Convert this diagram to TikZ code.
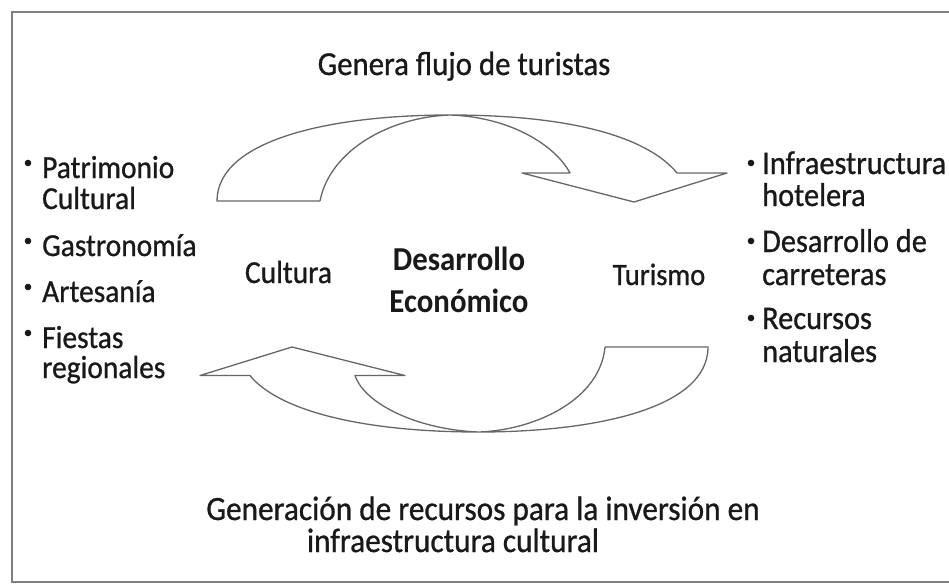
\documentclass[tikz,border=0pt]{standalone}
\usepackage{fontspec}
\setmainfont{Carlito}[FakeStretch=0.92,FakeBold=0.8]
\newfontfamily\boldish{Carlito}[FakeStretch=0.92,UprightFont=* Bold]
\begin{document}
\begin{tikzpicture}[x=1pt,y=-1pt,
  lbl/.style={inner sep=0pt,text=black!90,text height=22pt,text depth=5pt,font=\fontsize{32}{32}\selectfont},
  big/.style={font=\fontsize{34}{34}\selectfont},
  rgt/.style={font=\fontsize{33}{33}\selectfont},
  ctr/.style={font=\boldish\fontsize{33.5}{33.5}\selectfont},
  blt/.style={fill=black!90,draw=none},
  shp/.style={draw=black!60,line width=1.3pt,line join=round}]
\useasboundingbox (0,0) rectangle (949,584);
\clip (0,0) rectangle (949,584);
\fill[white] (0,0) rectangle (949,584);
\draw[draw=black!50,line width=2pt] (960,11.5) -- (11.5,11.5) -- (11.5,582) -- (960,582);

% top curved arrow
\coordinate (tto) at (217,201);
\coordinate (tti) at (320,201);
\coordinate (ttop) at (450,115);
\coordinate (thn1) at (570,173);
\coordinate (thb1) at (522,173);
\coordinate (thtip) at (634,202);
\coordinate (thb2) at (727,173);
\coordinate (thn2) at (677,173);
\draw[shp] (tti) -- (tto) .. controls (217,140) and (330,115) .. (ttop)
  .. controls (580,115) and (650,140) .. (thn2) -- (thb2) -- (thtip) -- (thb1) -- (thn1)
  .. controls (555,145) and (510,117) .. (ttop)
  .. controls (390,117) and (330,150) .. (tti);

% bottom curved arrow
\coordinate (bto) at (708,347);
\coordinate (bti) at (605,347);
\coordinate (bbot) at (479,432);
\coordinate (bhn1) at (355,375.5);
\coordinate (bhb1) at (405,375.5);
\coordinate (bhtip) at (292,347);
\coordinate (bhb2) at (200,375.5);
\coordinate (bhn2) at (250,375.5);
\draw[shp] (bti) -- (bto) .. controls (708,410) and (590,432) .. (bbot)
  .. controls (360,432) and (278,410) .. (bhn2) -- (bhb2) -- (bhtip) -- (bhb1) -- (bhn1)
  .. controls (365,405) and (420,430) .. (bbot)
  .. controls (535,430) and (600,400) .. (bti);

% titles
\node[lbl,anchor=base,font=\fontsize{33.5}{33.5}\selectfont] (top) at (464,75) {Genera flujo de turistas};
\node[lbl,big,anchor=base] (bot1) at (483,520) {Generación de recursos para la inversión en};
\node[lbl,big,anchor=base,text height=21pt] (bot2) at (453,552) {infraestructura cultural};

% centre
\node[lbl,anchor=base] (cul) at (288.5,283) {Cultura};
\node[lbl,anchor=base,font=\fontsize{31}{31}\selectfont] (tur) at (659,285) {Turismo};
\node[lbl,ctr,anchor=base] (des) at (459,270) {Desarrollo};
\node[lbl,ctr,anchor=base] (eco) at (459,312) {Económico};

% left list
\node[lbl,anchor=base west] (l1) at (42,178) {Patrimonio};
\node[lbl,anchor=base west] (l1b) at (42,209) {Cultural};
\node[lbl,anchor=base west] (l2) at (42,256) {Gastronomía};
\node[lbl,anchor=base west] (l3) at (42,302) {Artesanía};
\node[lbl,anchor=base west] (l4) at (42,348) {Fiestas};
\node[lbl,anchor=base west,text height=20pt] (l4b) at (42,378) {regionales};
\foreach \yy in {163,241,287,333} \fill[blt] (28,\yy) circle (3.3);

% right list
\node[lbl,rgt,anchor=base west] (r1) at (762,174) {Infraestructura};
\node[lbl,rgt,anchor=base west,text height=20pt] (r1b) at (762,206) {hotelera};
\node[lbl,rgt,anchor=base west] (r2) at (762,252) {Desarrollo de};
\node[lbl,rgt,anchor=base west,text height=20pt] (r2b) at (762,285) {carreteras};
\node[lbl,rgt,anchor=base west] (r3) at (762,329) {Recursos};
\node[lbl,rgt,anchor=base west,text height=20pt] (r3b) at (762,362) {naturales};
\foreach \yy in {163,241,318} \fill[blt] (751,\yy) circle (3.3);
\end{tikzpicture}
\end{document}
